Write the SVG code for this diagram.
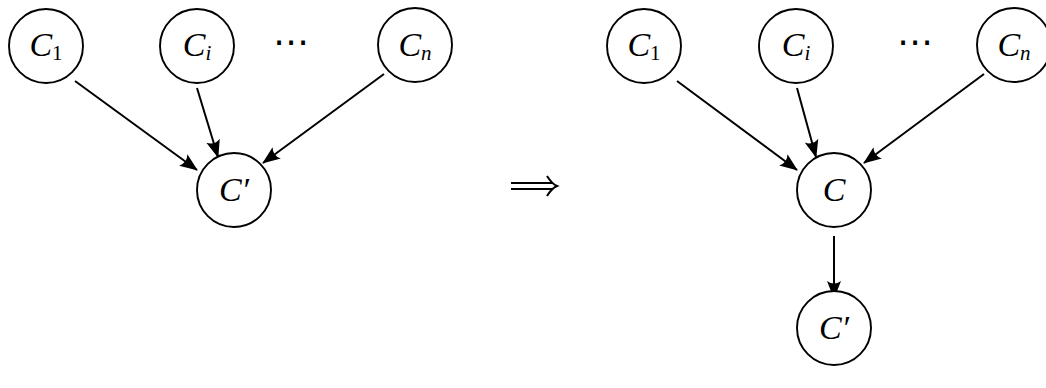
<svg xmlns="http://www.w3.org/2000/svg" width="1046" height="388" viewBox="0 0 1046 388">
<style>
.n{fill:#fff;stroke:#000;stroke-width:1.9}
.t{font-family:"Liberation Serif","DejaVu Serif",serif;font-size:34px;font-style:italic;fill:#000}
.s{font-size:21px}
.u{font-style:normal}
.e{stroke:#000;stroke-width:2;fill:none}
.d{font-family:"DejaVu Sans",sans-serif;font-size:36px;fill:#000}
</style>
<defs>
<marker id="ah" markerUnits="userSpaceOnUse" markerWidth="22" markerHeight="16" viewBox="-20 -8 22 16" refX="0" refY="0" orient="auto">
<path d="M1,0 L-17,-7 Q-12,0 -17,7 Z" fill="#000"/>
</marker>
</defs>
<g id="connectors">
<line class="e" x1="75" y1="81" x2="197" y2="170" marker-end="url(#ah)"/>
<line class="e" x1="197" y1="88" x2="218" y2="157" marker-end="url(#ah)"/>
<line class="e" x1="384" y1="74" x2="263" y2="163" marker-end="url(#ah)"/>
<line class="e" x1="677" y1="81" x2="797" y2="170" marker-end="url(#ah)"/>
<line class="e" x1="797" y1="88" x2="816" y2="157" marker-end="url(#ah)"/>
<line class="e" x1="984" y1="74" x2="864" y2="163" marker-end="url(#ah)"/>
<line class="e" x1="834" y1="236" x2="834" y2="298" marker-end="url(#ah)"/>
</g>
<g id="implies">
<path class="e" d="M511,183 H553 M511,189 H553" stroke-width="1.4"/>
<path class="e" d="M547,176 Q552,184 557,186 Q552,188 547,196" stroke-width="1.4"/>
</g>
<g id="L_C1"><circle class="n" cx="46" cy="46" r="37"/><text class="t" x="46" y="56" text-anchor="middle">C<tspan class="s u" dy="4">1</tspan></text></g>
<g id="L_Ci"><circle class="n" cx="197" cy="46" r="37"/><text class="t" x="197" y="56" text-anchor="middle">C<tspan class="s" dy="4">i</tspan></text></g>
<g id="L_dots"><text class="d" x="291" y="54" text-anchor="middle">⋯</text></g>
<g id="L_Cn"><circle class="n" cx="415" cy="45" r="37"/><text class="t" x="415" y="56" text-anchor="middle">C<tspan class="s" dy="4">n</tspan></text></g>
<g id="L_Cp"><circle class="n" cx="234" cy="190" r="37"/><text class="t" x="234" y="201" text-anchor="middle">C′</text></g>
<g id="R_C1"><circle class="n" cx="644" cy="46" r="37"/><text class="t" x="644" y="56" text-anchor="middle">C<tspan class="s u" dy="4">1</tspan></text></g>
<g id="R_Ci"><circle class="n" cx="796" cy="46" r="37"/><text class="t" x="796" y="56" text-anchor="middle">C<tspan class="s" dy="4">i</tspan></text></g>
<g id="R_dots"><text class="d" x="915" y="54" text-anchor="middle">⋯</text></g>
<g id="R_Cn"><circle class="n" cx="1014" cy="45" r="37"/><text class="t" x="1014" y="56" text-anchor="middle">C<tspan class="s" dy="4">n</tspan></text></g>
<g id="R_C"><circle class="n" cx="834" cy="190" r="37"/><text class="t" x="834" y="201" text-anchor="middle">C</text></g>
<g id="R_Cp"><circle class="n" cx="834" cy="328" r="37"/><text class="t" x="834" y="339" text-anchor="middle">C′</text></g>
</svg>
